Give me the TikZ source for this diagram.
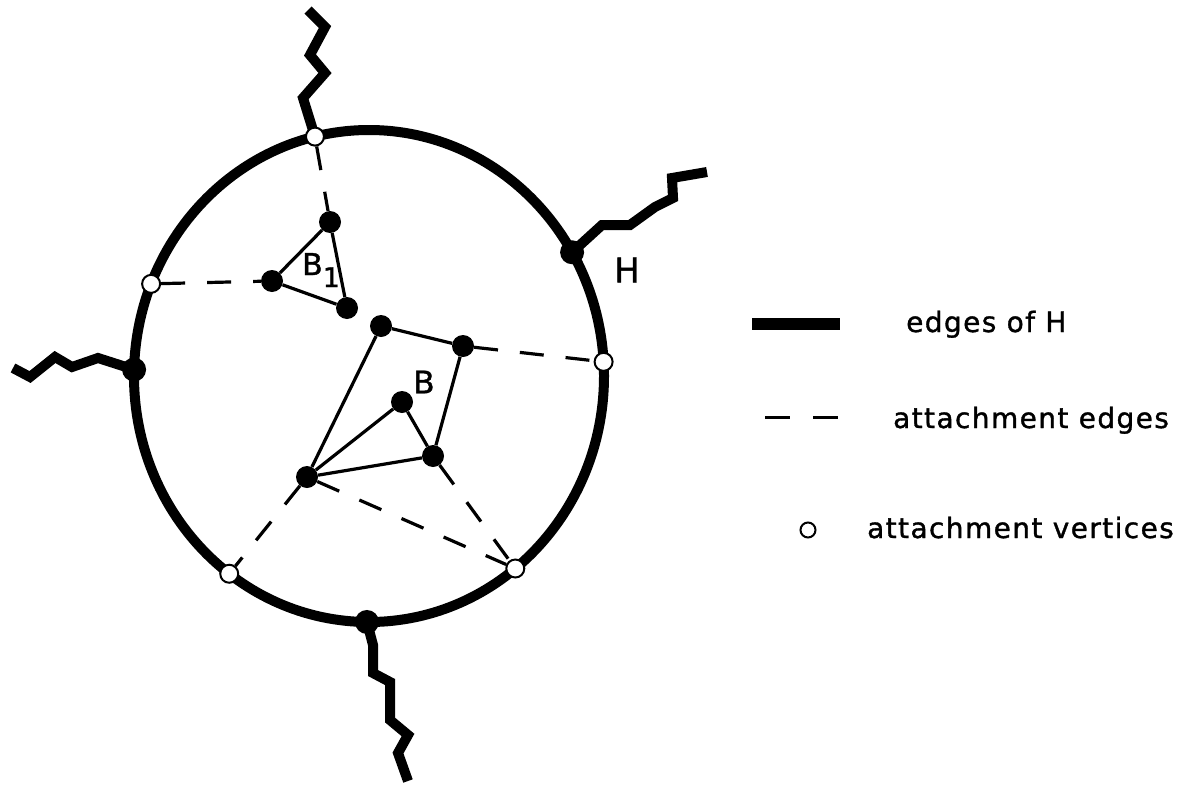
\documentclass[tikz,border=0pt]{standalone}
\usepackage{fontspec}
\setmainfont[FakeBold=1.2]{DejaVu Sans}
\newfontfamily\lgfont[LetterSpace=5,FakeBold=1.2]{DejaVu Sans}
\usetikzlibrary{calc}
\pgfdeclarelayer{bg}
\pgfsetlayers{bg,main}
\begin{document}
\begin{tikzpicture}[x=1pt,y=-1pt,
  hedge/.style={line width=10pt,line join=miter,line cap=butt},
  bdot/.style={circle,fill=black,inner sep=0pt,minimum size=22pt},
  hdot/.style={circle,fill=black,inner sep=0pt,minimum size=24pt},
  wdot/.style={circle,draw=black,line width=2pt,fill=white,inner sep=0pt,minimum size=18pt},
  bedge/.style={line width=3.2pt},
  att/.style={line width=3.2pt,dash pattern=on 24pt off 22pt},
  lgtext/.style={anchor=base west,inner sep=0pt,font=\lgfont\fontsize{28}{32}\selectfont}]
\useasboundingbox (0,0) rectangle (1188,784);
\coordinate (c) at (369,376);
% vertices on H (the circle)
\path (c) ++(103.3:235pt and 246pt) node[wdot] (wt) {};
\path (c) ++(30.2:235pt and 246pt) node[hdot] (hv) {};
\path (c) ++(158:235pt and 246pt) node[wdot] (wl) {};
\path (c) ++(178.5:235pt and 246pt) node[hdot] (lv) {};
\path (c) ++(3.3:235pt and 246pt) node[wdot] (wr) {};
\path (c) ++(233.5:235pt and 246pt) node[wdot] (wbl) {};
\path (c) ++(308.5:235pt and 246pt) node[wdot] (wbr) {};
\path (c) ++(269.5:235pt and 246pt) node[hdot] (bv) {};
% bridge B1
\node[bdot] (a1) at (330,222) {};
\node[bdot] (a2) at (272,281) {};
\node[bdot] (a3) at (347,308) {};
% bridge B
\node[bdot] (b1) at (381,326) {};
\node[bdot] (b2) at (463,346) {};
\node[bdot] (b3) at (402,402) {};
\node[bdot] (b4) at (433,456) {};
\node[bdot] (b5) at (307,477) {};
% labels
\node[inner sep=0pt,font=\fontsize{34}{38}\selectfont] (lh) at (627,270) {H};
\node[inner sep=0pt,font=\fontsize{31}{36}\selectfont] (lb) at (424,382) {B};
\node[anchor=base west,inner sep=0pt,font=\fontsize{30}{34}\selectfont] (lb1) at (302,275) {B\raisebox{-12pt}{\fontsize{27}{30}\selectfont 1}};
% legend
\coordinate (l1a) at (752,324);
\coordinate (l1b) at (840,324);
\coordinate (l2a) at (765,417);
\coordinate (l2b) at (839,417);
\node[circle,draw=black,line width=2pt,fill=white,inner sep=0pt,minimum size=15pt] (l3) at (808,530) {};
\node[lgtext] (t1) at (906,332) {edges of H};
\node[lgtext] (t2) at (893,428) {attachment edges};
\node[lgtext] (t3) at (867,538) {attachment vertices};
\begin{pgfonlayer}{bg}
\fill[white] (0,0) rectangle (1188,784);
\draw[line width=10pt] (c) ellipse [x radius=235pt, y radius=246pt];
% H zigzags
\coordinate (zt) at (308,10);
\draw[hedge] (wt.center) -- (303,98) -- (325,73) -- (310,55) -- (325,27) -- (zt);
\coordinate (zr) at (707,172);
\draw[hedge] (hv.center) -- (602,225) -- (630,225) -- (655,207) -- (673,198) -- (672,178) -- (zr);
\coordinate (zl) at (13,368);
\draw[hedge] (lv.center) -- (98,358) -- (72,367) -- (55,357) -- (30,377) -- (zl);
\coordinate (zb) at (408,781);
\draw[hedge] (bv.center) -- (373,645) -- (373,673) -- (390,682) -- (390,720) -- (408,735) -- (398,753) -- (zb);
% bridge edges
\draw[bedge] (a1) -- (a2) -- (a3) -- (a1);
\draw[bedge] (b1) -- (b2) -- (b4) -- (b5) -- (b1);
\draw[bedge] (b5) -- (b3) -- (b4);
% attachment edges
\draw[att] (wt) -- (a1);
\draw[att] (wl) -- (a2);
\draw[att] (b2) -- (wr);
\draw[att] (b4) -- (wbr);
\draw[att] (b5) -- (wbr);
\draw[att] (b5) -- (wbl);
% legend samples
\draw[line width=12pt] (l1a) -- (l1b);
\draw[line width=3pt,dash pattern=on 25pt off 23pt] (l2a) -- (l2b);
\end{pgfonlayer}
\end{tikzpicture}
\end{document}
